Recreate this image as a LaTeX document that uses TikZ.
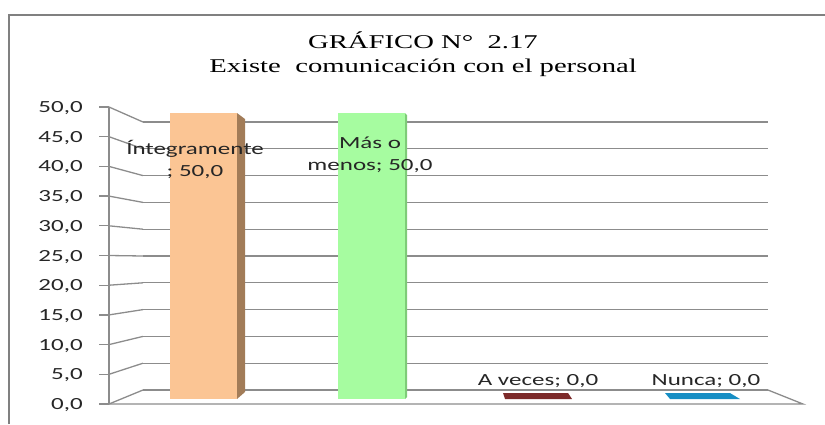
\documentclass[tikz,border=0pt]{standalone}
\usepackage{fontspec}
\setmainfont{Liberation Serif}
\newfontfamily\carlito{Carlito}
\usetikzlibrary{calc}

\definecolor{framegray}{RGB}{128,128,128}
\definecolor{gridgray}{RGB}{140,140,140}
\definecolor{txtgray}{RGB}{38,38,38}
\definecolor{orangefront}{RGB}{251,197,148}
\definecolor{orangeside}{RGB}{162,124,88}
\definecolor{greenfront}{RGB}{166,252,160}
\definecolor{greenside}{RGB}{126,204,120}
\definecolor{redbar}{RGB}{124,42,42}
\definecolor{bluebar}{RGB}{22,142,196}

\begin{document}
\begin{tikzpicture}[x=1pt,y=-1pt,inner sep=0pt,
  gridline/.style={draw=gridgray,line width=1.3pt},
  axlabel/.style={font=\carlito\fontsize{17}{17}\selectfont,text=txtgray,xscale=1.47},
  barlabel/.style={font=\carlito\fontsize{17}{22}\selectfont,text=txtgray,xscale=1.47,align=center},
  titlestyle/.style={font=\fontsize{19.5}{24}\selectfont,text=black,xscale=1.47,align=center}]%
\useasboundingbox (0,0) rectangle (825,424);
% frame
\draw [framegray,line width=1.5pt] (9,424) -- (9,15) -- (825,15);
% back wall, side wall, ticks
\foreach \k in {0,...,10} {
  \coordinate (F\k) at (109,{404-29.7*\k});
  \coordinate (B\k) at (143,{390-26.8*\k});
  \draw [gridline] (B\k) -- (768,{390-26.8*\k});
  \draw [gridline] (F\k) -- (B\k);
  \draw [gridline] (F\k) -- ++(-10,0);
  \pgfmathtruncatemacro\val{5*\k}
  \node [axlabel,anchor=base east] (Y\k) at ($ (F\k) + (-26,5.5) $) {\val,0};
}
% floor
\coordinate (FR) at (803,404);
\coordinate (BR) at (768,390);
\draw [gridline] (F0) -- (FR) -- (BR);
\draw [gridline] (F0) -- (F10);
% bars
\fill [orangefront] (170,113) rectangle (237,399);
\fill [orangeside] (237,113) -- (245,119) -- (245,392) -- (237,399) -- cycle;
\fill [greenfront] (338,113) rectangle (405,399);
\fill [greenside] (405,113) -- (407,115) -- (407,397) -- (405,399) -- cycle;
\fill [redbar] (503,393) -- (568,393) -- (572,399) -- (505,399) -- cycle;
\fill [bluebar] (665,393) -- (730,393) -- (740,399) -- (670,399) -- cycle;
% labels
\node [barlabel,anchor=north] (Lint) at (195,140) {Íntegramente\\; 50,0};
\node [barlabel,anchor=north] (Lmas) at (370,137) {Más o\\menos; 50,0};
\node [barlabel,anchor=base] (Lave) at (538,385) {A veces; 0,0};
\node [barlabel,anchor=base] (Lnun) at (706,385) {Nunca; 0,0};
\node [titlestyle,anchor=north] (T) at (423,32) {GRÁFICO N°\ \ 2.17\\Existe\ \ comunicación con el personal};
\end{tikzpicture}
\end{document}
